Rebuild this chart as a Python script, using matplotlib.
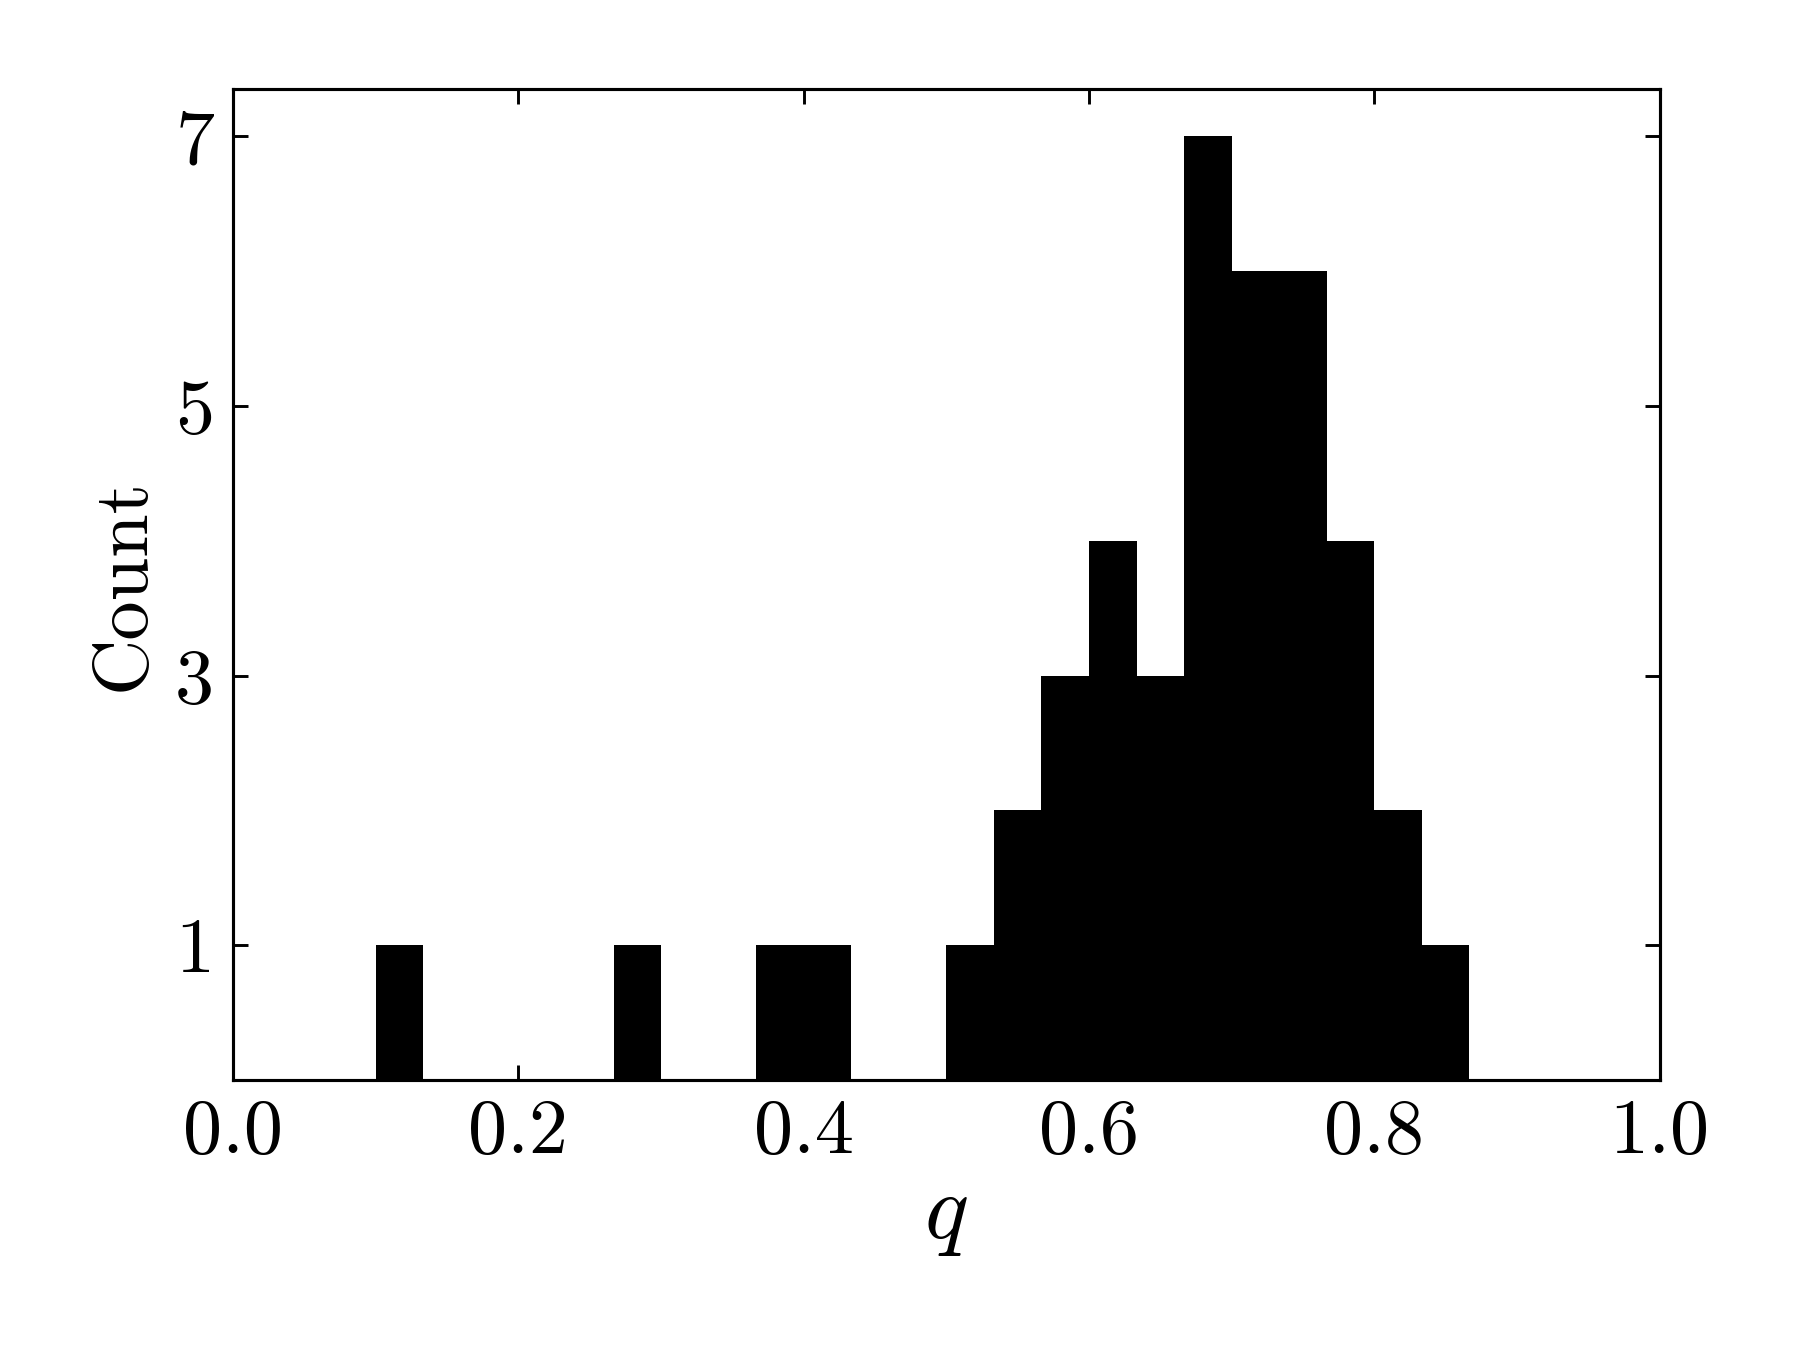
import numpy as np
import matplotlib
matplotlib.use('Agg')
from matplotlib import pyplot as plt

plt.rcParams['font.family'] = 'serif'
plt.rcParams['font.serif'] = ['cmr10']
plt.rcParams['mathtext.fontset'] = 'cm'
plt.rcParams['axes.formatter.use_mathtext'] = True

# histogram of q, 30 bins over [0, 1]
bin_edges = np.linspace(0, 1, 31)
counts = [0, 0, 0, 1, 0, 0, 0, 0, 1, 0,
          0, 1, 1, 0, 0, 1, 2, 3, 4, 3,
          7, 6, 6, 4, 2, 1, 0, 0, 0, 0]
xticks = [0.0, 0.2, 0.4, 0.6, 0.8, 1.0]
yticks = [1, 3, 5, 7]

fig = plt.figure(figsize=(6, 4.5), dpi=300)
ax = fig.add_axes([0.1295, 0.200, 0.7925, 0.734])

ax.stairs(counts, bin_edges, fill=True, color='black', linewidth=0)

ax.set_xlim(0, 1)
ax.set_ylim(0, 7.35)
ax.set_xticks(xticks)
ax.set_xticklabels(['%.1f' % t for t in xticks])
ax.set_yticks(yticks)
ax.set_yticklabels([str(t) for t in yticks])
ax.tick_params(direction='in', top=True, right=True, length=3.6, width=0.7,
               labelsize=18.8, pad=4.5)
for s in ax.spines.values():
    s.set_linewidth(0.75)

ax.set_xlabel(r'$q$', fontsize=22, labelpad=2)
ax.set_ylabel('Count', fontsize=18.8, labelpad=4)

fig.savefig('out.png', dpi=300)
